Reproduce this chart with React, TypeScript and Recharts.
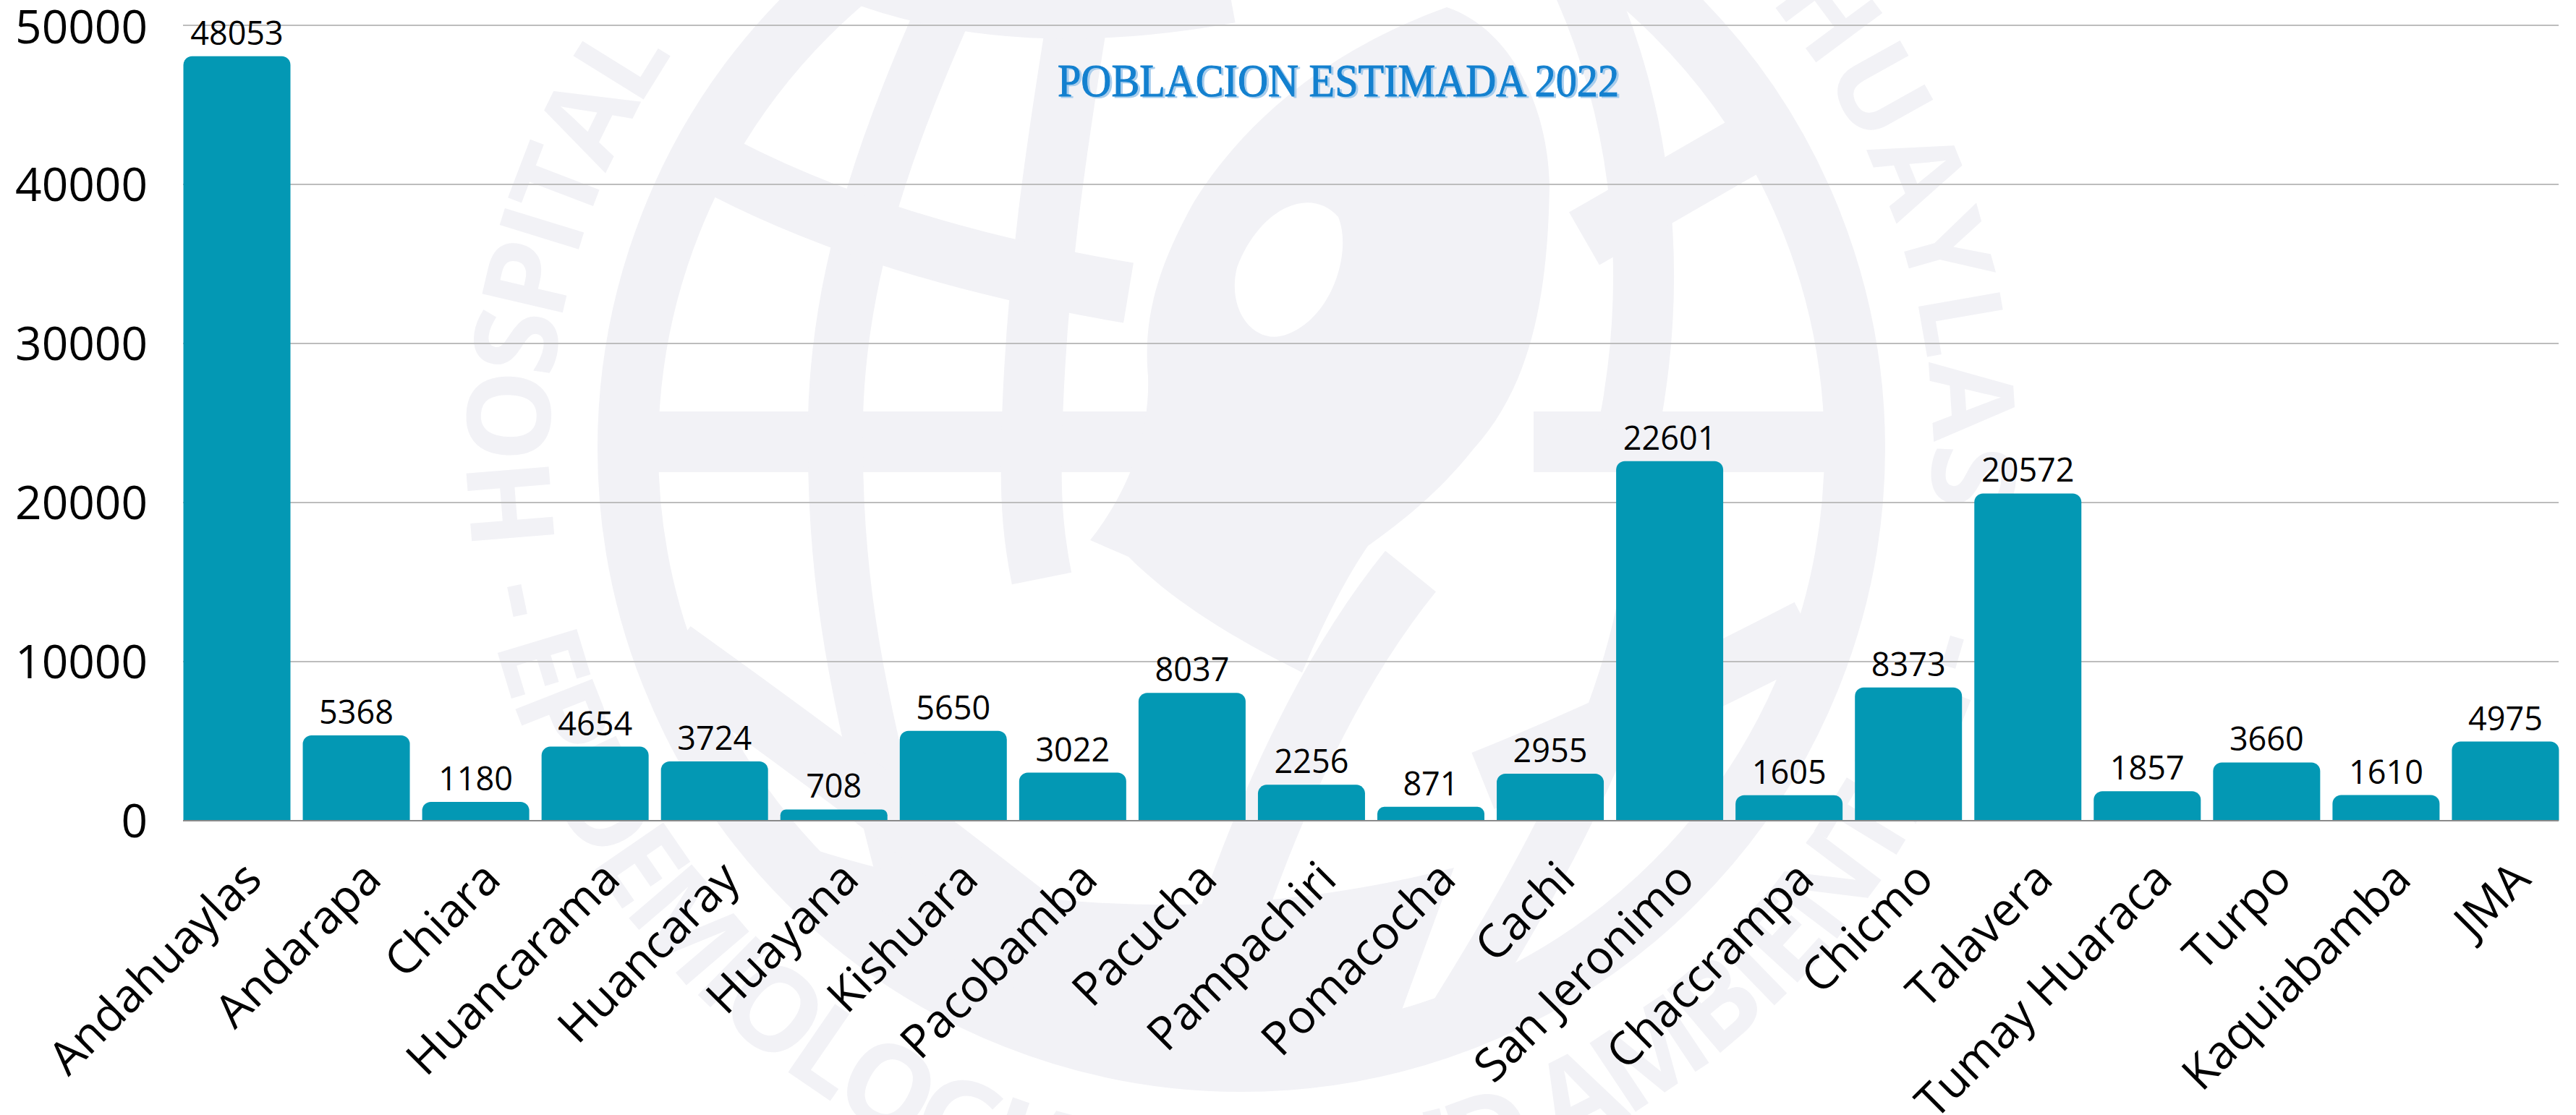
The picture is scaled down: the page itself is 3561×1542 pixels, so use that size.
import React from 'react';
import { BarChart, Bar, XAxis, YAxis, CartesianGrid, LabelList } from 'recharts';

const districts = [
    'Andahuaylas', 'Andarapa', 'Chiara', 'Huancarama', 'Huancaray', 'Huayana', 'Kishuara',
    'Pacobamba', 'Pacucha', 'Pampachiri', 'Pomacocha', 'Cachi', 'San Jeronimo', 'Chaccrampa',
    'Chicmo', 'Talavera', 'Tumay Huaraca', 'Turpo', 'Kaquiabamba', 'JMA',
];
const population = [
    48053, 5368, 1180, 4654, 3724, 708, 5650, 3022, 8037, 2256,
    871, 2955, 22601, 1605, 8373, 20572, 1857, 3660, 1610, 4975,
];
const yTicks = [0, 10000, 20000, 30000, 40000, 50000];

const data = districts.map((name, i) => ({ name, value: population[i] }));

const FONT = '"Open Sans", sans-serif';
const WM = '#f2f2f6';

// faint logo behind the chart, traced roughly by eye
function Watermark() {
    return (
        <svg width={3561} height={1542} style={{ position: 'absolute', left: 0, top: 0 }}>
            <defs>
                <clipPath id="globe">
                    <circle cx={1716} cy={620} r={810} />
                </clipPath>
                <path id="topArc" d="M 769 753 A 956 956 0 1 1 2668 703" />
                <path id="bottomArc" d="M 650 620 A 1066 1066 0 0 0 2782 620" />
            </defs>
            <circle cx={1716} cy={620} r={848} fill="none" stroke={WM} strokeWidth={84} />
            <g clipPath="url(#globe)" fill="none" stroke={WM} strokeWidth={84}>
                <path d="M 880 611 L 1600 611" />
                <path d="M 2120 611 L 2540 611" />
                <path d="M 1330 -40 C 1220 200 1150 400 1155 620 C 1155 800 1180 950 1260 1250" strokeWidth={76} />
                <path d="M 1500 -40 C 1460 200 1430 400 1426 620 C 1424 700 1430 750 1440 800" />
                <path d="M 960 210 Q 1200 345 1560 405" />
                <path d="M 1180 -40 Q 1400 45 1700 -10" />
                <path d="M 2180 -40 C 2260 130 2300 350 2250 600" />
                <path d="M 2190 330 L 2520 140" />
                <path d="M 930 900 Q 1250 1130 1500 1330" />
                <path d="M 2500 870 Q 2250 1000 2050 1080" />
                <path d="M 2290 640 C 2290 900 2200 1100 2000 1420" strokeWidth={70} />
                <path d="M 1950 790 Q 1780 1000 1660 1400" strokeWidth={90} />
            </g>
            <g clipPath="url(#globe)" fill={WM}>
                <path
                    fillRule="evenodd"
                    d="M 2000 10 C 2090 40 2140 150 2142 255 C 2140 400 2120 530 2036 622 C 1990 680 1940 720 1891 755
                       C 1860 800 1830 860 1800 930 C 1700 880 1620 830 1560 770 L 1507 747 C 1560 680 1590 600 1587 520
                       C 1580 440 1600 370 1650 280 C 1730 150 1860 60 2000 10 Z
                       M 1850 300 C 1810 255 1740 290 1710 370 C 1695 430 1735 480 1780 462 C 1840 440 1870 350 1850 300 Z"
                />
                <path d="M 1000 1130 Q 1500 1330 2010 1200 L 1900 1500 L 1400 1500 Z" />
            </g>
            <g fill={WM} fontFamily={FONT} fontWeight={700} fontSize={160}>
                <text letterSpacing={-10}>
                    <textPath href="#topArc" startOffset={0}>HOSPITAL</textPath>
                </text>
                <text letterSpacing={2} textAnchor="end">
                    <textPath href="#topArc" startOffset="100%">ANDAHUAYLAS</textPath>
                </text>
                <text letterSpacing={-8}>
                    <textPath href="#bottomArc" startOffset={195}>- EPIDEMIOLOGIA Y SALUD AMBIENTAL -</textPath>
                </text>
            </g>
        </svg>
    );
}

export default function App() {
    return (
        <div style={{ position: 'absolute', left: 0, top: 0, width: 3561, height: 1542, overflow: 'hidden', background: '#fff' }}>
            <Watermark />
            <div style={{ position: 'absolute', left: 0, top: 0 }}>
                <BarChart
                    width={3561}
                    height={1542}
                    data={data}
                    margin={{ top: 35, right: 24, bottom: 0, left: 0 }}
                >
                    <CartesianGrid horizontal vertical={false} stroke="#bdbdbd" strokeWidth={2} />
                    <XAxis
                        dataKey="name"
                        interval={0}
                        height={407}
                        angle={-45}
                        textAnchor="end"
                        tickLine={false}
                        tickSize={0}
                        tickMargin={52}
                        padding={{ left: -8.5, right: -8.5 }}
                        axisLine={{ stroke: '#8a8a8a', strokeWidth: 2 }}
                        tick={{ fill: '#000', fontSize: 64, fontFamily: FONT, dx: 6 }}
                    />
                    <YAxis
                        domain={[0, 50000]}
                        ticks={yTicks}
                        width={253}
                        tickLine={false}
                        axisLine={false}
                        tickSize={0}
                        tickMargin={49}
                        tick={{ fill: '#000', fontSize: 64, fontFamily: FONT }}
                    />
                    <Bar dataKey="value" fill="#0398b4" barSize={148} radius={[12, 12, 0, 0]} isAnimationActive={false}>
                        <LabelList dataKey="value" position="top" offset={16} fill="#000" fontSize={45} fontFamily={FONT} />
                    </Bar>
                </BarChart>
            </div>
            <svg width={3561} height={1542} style={{ position: 'absolute', left: 0, top: 0, pointerEvents: 'none' }}>
                <g fontFamily='"Liberation Serif", serif' fontSize={63} strokeWidth={1}>
                    <text x={1465} y={135} fill="#a9cdec" stroke="#a9cdec" textLength={776} lengthAdjust="spacingAndGlyphs">POBLACION ESTIMADA 2022</text>
                    <text x={1462} y={133} fill="#1380cf" stroke="#1380cf" textLength={776} lengthAdjust="spacingAndGlyphs">POBLACION ESTIMADA 2022</text>
                </g>
            </svg>
        </div>
    );
}
